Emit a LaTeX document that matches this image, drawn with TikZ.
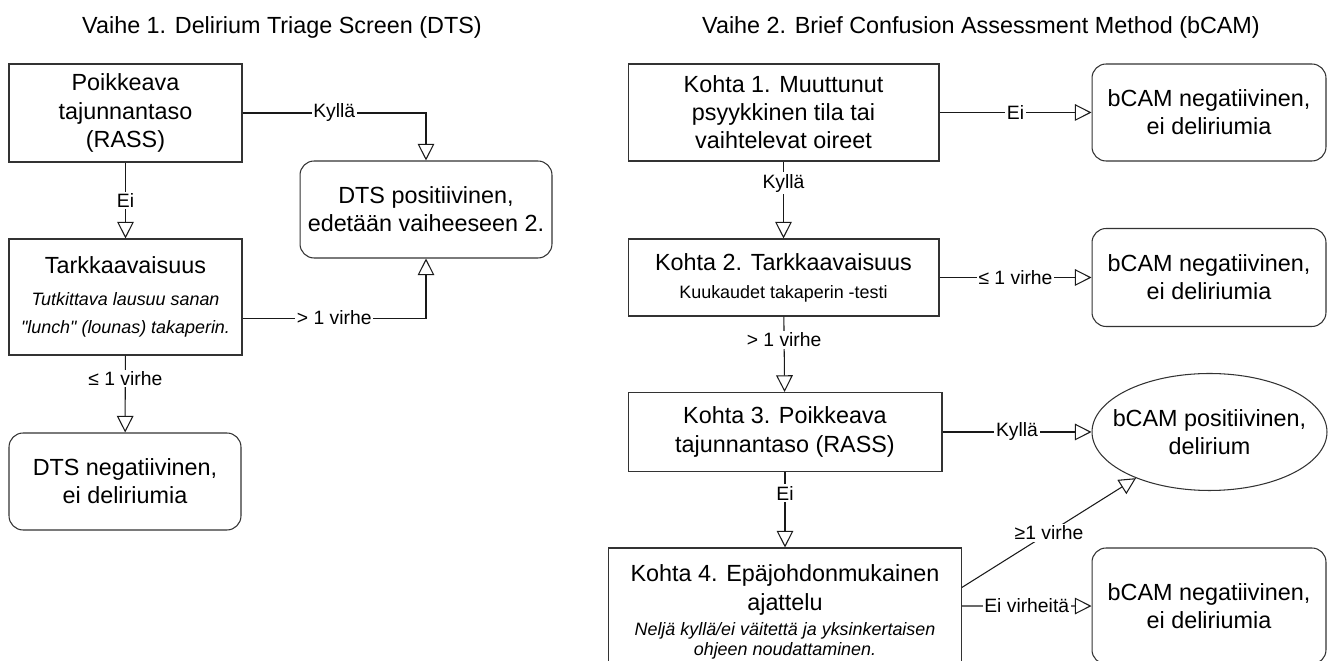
\documentclass[tikz,border=0pt]{standalone}
\usepackage{fontspec}
\setmainfont{Liberation Sans}
\usetikzlibrary{arrows.meta,shapes.geometric}

\newcommand{\selite}{\fontsize{10.2}{12}\selectfont\itshape}
\newcommand{\pieni}{\fontsize{10.2}{12}\selectfont}

\begin{document}
\begin{tikzpicture}[x=0.02cm, y=-0.02cm, font=\fontsize{13.3}{16}\selectfont,
  check box/.style={rectangle, draw=black!80, line width=0.6pt, align=center, inner sep=0pt},
  result box/.style={check box, rounded corners=8pt},
  result ellipse/.style={ellipse, draw=black!80, line width=0.6pt, align=center, inner xsep=-10pt, inner ysep=0pt},
  flow/.style={draw=black!90, line width=0.6pt, -{Triangle[open, length=9.5pt, width=9.5pt]}},
  lbl/.style={fill=white, inner sep=1pt, font=\fontsize{11}{13}\selectfont}]

  \useasboundingbox (0,0) rectangle (1333,661);

  % Vaihe 1
  \node (vaihe1) at (282,27) {Vaihe 1. Delirium Triage Screen (DTS)};
  \node[check box, minimum width=4.66cm, minimum height=1.96cm] (rass) at (125.5,113) {Poikkeava\\tajunnantaso\\(RASS)};
  \node[check box, minimum width=4.66cm, minimum height=2.32cm] (tark) at (125.5,297) {Tarkkaavaisuus\\[2pt]\selite Tutkittava lausuu sanan\\\selite \textquotedbl lunch\textquotedbl{} (lounas) takaperin.};
  \node[result box, minimum width=4.64cm, minimum height=1.94cm] (dtsneg) at (125,481.5) {DTS negatiivinen,\\ei deliriumia};
  \node[result box, minimum width=5.04cm, minimum height=1.94cm] (dtspos) at (426,209.5) {DTS positiivinen,\\edetään vaiheeseen 2.};

  \draw[flow] (rass) -- node[lbl] {Ei} (tark);
  \draw[flow] (tark) -- node[lbl, pos=0.3] {≤ 1 virhe} (dtsneg);
  \draw[flow] (rass.east) -| node[lbl, pos=0.25] {Kyllä} (dtspos.north);
  \draw[flow] ([yshift=-12pt]tark.east) -| node[lbl, pos=0.25] {> 1 virhe} (dtspos.south);

  % Vaihe 2
  \node (vaihe2) at (981,27) {Vaihe 2. Brief Confusion Assessment Method (bCAM)};
  \node[check box, minimum width=6.22cm, minimum height=1.94cm] (kohta1) at (783.5,112.5) {Kohta 1. Muuttunut\\psyykkinen tila tai\\vaihtelevat oireet};
  \node[check box, minimum width=6.22cm, minimum height=1.54cm] (kohta2) at (783.5,277.5) {Kohta 2. Tarkkaavaisuus\\\pieni Kuukaudet takaperin -testi};
  \node[check box, minimum width=6.28cm, minimum height=1.58cm] (kohta3) at (785,432) {Kohta 3. Poikkeava\\tajunnantaso (RASS)};
  \node[check box, minimum width=7.06cm, minimum height=2.56cm] (kohta4) at (785,612) {Kohta 4. Epäjohdonmukainen\\ajattelu\\[-1.8pt]\selite Neljä kyllä/ei väitettä ja yksinkertaisen\\[-4.5pt]\selite ohjeen noudattaminen.};

  \node[result box, minimum width=4.68cm, minimum height=1.94cm] (neg1) at (1209,112.5) {bCAM negatiivinen,\\ei deliriumia};
  \node[result box, minimum width=4.68cm, minimum height=1.96cm] (neg2) at (1209,277.5) {bCAM negatiivinen,\\ei deliriumia};
  \node[result ellipse, minimum width=4.70cm, minimum height=2.34cm] (pos) at (1209.5,432) {bCAM positiivinen,\\delirium};
  \node[result box, minimum width=4.68cm, minimum height=2.32cm] (neg3) at (1209,606) {bCAM negatiivinen,\\ei deliriumia};

  \draw[flow] (kohta1) -- node[lbl] {Ei} (neg1);
  \draw[flow] (kohta1) -- node[lbl, pos=0.28] {Kyllä} (kohta2);
  \draw[flow] (kohta2) -- node[lbl] {≤ 1 virhe} (neg2);
  \draw[flow] (kohta2) -- node[lbl, pos=0.31] {> 1 virhe} (kohta3);
  \draw[flow] (kohta3) -- node[lbl] {Kyllä} (pos);
  \draw[flow] (kohta3) -- node[lbl, pos=0.28] {Ei} (kohta4);
  \draw[flow] ([yshift=14pt]kohta4.east) -- node[lbl] {≥1 virhe} (pos);
  \draw[flow] ([yshift=3.4pt]kohta4.east) -- node[lbl] {Ei virheitä} (neg3);

\end{tikzpicture}
\end{document}
